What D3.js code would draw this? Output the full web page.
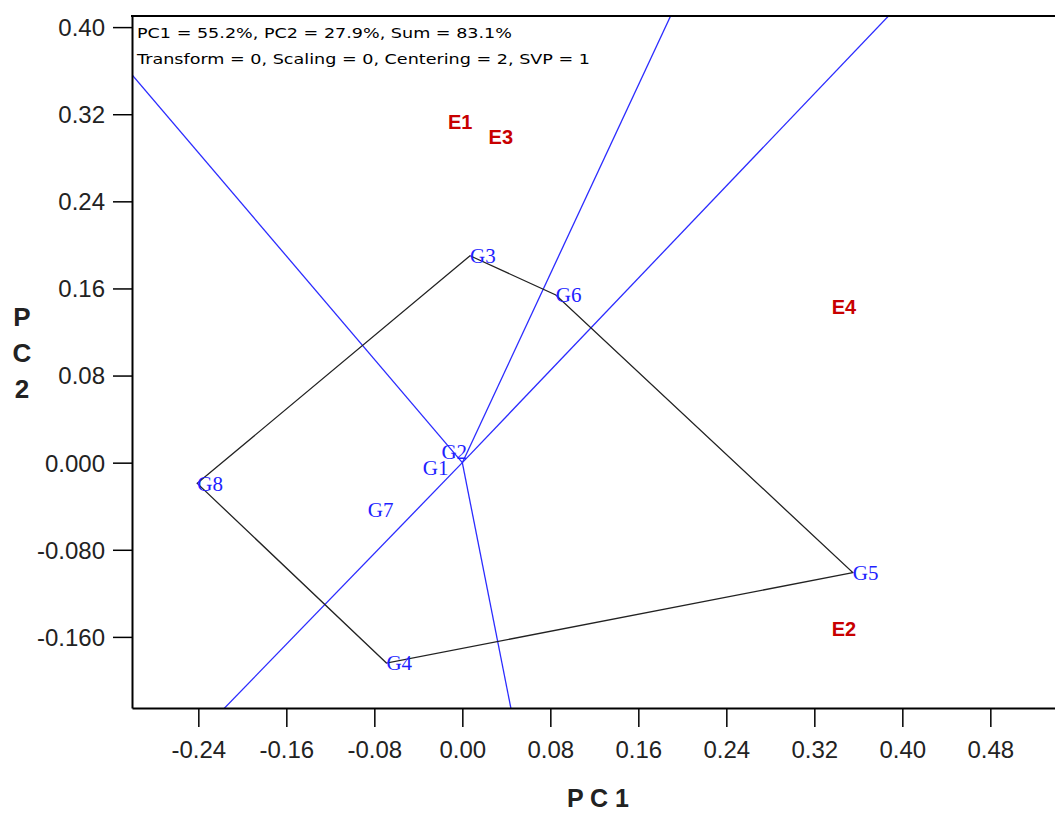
<!DOCTYPE html>
<html>
<head>
<meta charset="utf-8">
<script src="https://cdn.jsdelivr.net/npm/d3@7"></script>
<style>
  html, body { margin: 0; padding: 0; background: #fff; }
  svg { display: block; }
</style>
</head>
<body>
<svg id="chart" width="1055" height="814"></svg>
<script>
// ---- data ----
const genotypes = ["G1", "G2", "G3", "G4", "G5", "G6", "G7", "G8"];
const genoPC1 = [-0.036, -0.019, 0.007, -0.069, 0.355, 0.085, -0.086, -0.241];
const genoPC2 = [-0.005, 0.010, 0.190, -0.184, -0.101, 0.154, -0.043, -0.019];

const environments = ["E1", "E2", "E3", "E4"];
const envPC1 = [-0.002, 0.347, 0.035, 0.347];
const envPC2 = [0.313, -0.153, 0.299, 0.143];

const hullOrder = ["G3", "G6", "G5", "G4", "G8"];

const xTicks = [-0.24, -0.16, -0.08, 0.00, 0.08, 0.16, 0.24, 0.32, 0.40, 0.48];
const xTickLabels = ["-0.24", "-0.16", "-0.08", "0.00", "0.08", "0.16", "0.24", "0.32", "0.40", "0.48"];
const yTicks = [0.40, 0.32, 0.24, 0.16, 0.08, 0.00, -0.08, -0.16];
const yTickLabels = ["0.40", "0.32", "0.24", "0.16", "0.08", "0.000", "-0.080", "-0.160"];

const infoLines = [
  "PC1 = 55.2%, PC2 = 27.9%, Sum = 83.1%",
  "Transform = 0, Scaling = 0, Centering = 2, SVP = 1"
];
const xTitle = "P C 1";
const yTitleLetters = ["P", "C", "2"];

// ---- layout ----
const svg = d3.select("#chart");
const L = 132, R = 1078, T = 16, B = 708;
const x = d3.scaleLinear().domain([-0.3003, 0.5597]).range([L, R]);
const y = d3.scaleLinear().domain([-0.2253, 0.4102]).range([B, T]);

svg.append("rect").attr("width", 1055).attr("height", 814).attr("fill", "#fff");

svg.append("defs").append("clipPath").attr("id", "plotclip")
  .append("rect").attr("x", L).attr("y", T).attr("width", R - L).attr("height", B - T);

const plot = svg.append("g").attr("clip-path", "url(#plotclip)");

// genotype lookup
const gIdx = {};
genotypes.forEach((g, i) => gIdx[g] = i);
const hullPts = hullOrder.map(g => [genoPC1[gIdx[g]], genoPC2[gIdx[g]]]);

// rays: from origin perpendicular to each polygon side
hullPts.forEach((A, i) => {
  const Bp = hullPts[(i + 1) % hullPts.length];
  const dx = Bp[0] - A[0], dy = Bp[1] - A[1];
  const t = -(A[0] * dx + A[1] * dy) / (dx * dx + dy * dy);
  const fx = A[0] + t * dx, fy = A[1] + t * dy;
  const len = Math.hypot(fx, fy);
  const ex = fx / len * 2, ey = fy / len * 2;
  plot.append("line")
    .attr("x1", x(0)).attr("y1", y(0))
    .attr("x2", x(ex)).attr("y2", y(ey))
    .attr("stroke", "#2b2bff").attr("stroke-width", 1.3);
});

// polygon
plot.append("path")
  .datum(hullPts)
  .attr("d", d3.line().x(d => x(d[0])).y(d => y(d[1])).curve(d3.curveLinearClosed))
  .attr("fill", "none").attr("stroke", "#222").attr("stroke-width", 1.3);

// genotype labels
svg.append("g").selectAll("text").data(genotypes).join("text")
  .attr("x", (d, i) => x(genoPC1[i]))
  .attr("y", (d, i) => y(genoPC2[i]))
  .attr("dy", "0.35em")
  .attr("font-family", "'Liberation Serif', 'Times New Roman', serif")
  .attr("font-size", 21)
  .attr("fill", "#1f1fff")
  .text(d => d);

// environment labels
svg.append("g").selectAll("text").data(environments).join("text")
  .attr("x", (d, i) => x(envPC1[i]))
  .attr("y", (d, i) => y(envPC2[i]))
  .attr("dy", "0.36em")
  .attr("text-anchor", "middle")
  .attr("font-family", "'Liberation Sans', Arial, sans-serif")
  .attr("font-weight", "bold")
  .attr("font-size", 20)
  .attr("fill", "#c80000")
  .text(d => d);

// axes
const xAxis = d3.axisBottom(x).tickValues(xTicks).tickSize(19).tickSizeOuter(0)
  .tickFormat((d, i) => xTickLabels[i]);
const yAxis = d3.axisLeft(y).tickValues(yTicks).tickSize(19).tickSizeOuter(0)
  .tickFormat((d, i) => yTickLabels[i]);

const gx = svg.append("g").attr("transform", `translate(0,${B})`).call(xAxis);
const gy = svg.append("g").attr("transform", `translate(${L},0)`).call(yAxis);
[gx, gy].forEach(g => {
  g.select(".domain").attr("stroke", "#000").attr("stroke-width", 2);
  g.selectAll(".tick line").attr("stroke", "#000").attr("stroke-width", 1.5);
  g.selectAll(".tick text")
    .attr("font-family", "'Liberation Sans', Arial, sans-serif")
    .attr("font-size", 24)
    .attr("fill", "#222");
});
gx.selectAll(".tick text").attr("dy", 0).attr("y", 50);
gy.selectAll(".tick text").attr("x", -27).attr("dy", "0.35em");

// top border
svg.append("line").attr("x1", L - 1).attr("x2", R).attr("y1", T).attr("y2", T)
  .attr("stroke", "#000").attr("stroke-width", 2);

// info text
const infoLengths = [375, 453];
infoLines.forEach((s, i) => {
  svg.append("text")
    .attr("x", 137).attr("y", 33 + i * 26).attr("dy", "0.36em")
    .attr("font-family", "'DejaVu Sans', Verdana, sans-serif")
    .attr("font-size", 14.5)
    .attr("fill", "#000")
    .attr("textLength", infoLengths[i]).attr("lengthAdjust", "spacingAndGlyphs")
    .text(s);
});

// axis titles
svg.append("text")
  .attr("x", 598).attr("y", 798).attr("dy", "0.36em")
  .attr("text-anchor", "middle")
  .attr("font-family", "'Liberation Sans', Arial, sans-serif")
  .attr("font-weight", "bold").attr("font-size", 25).attr("fill", "#222")
  .text(xTitle);

svg.append("g").selectAll("text").data(yTitleLetters).join("text")
  .attr("x", 22).attr("y", (d, i) => 317 + i * 36).attr("dy", "0.36em")
  .attr("text-anchor", "middle")
  .attr("font-family", "'Liberation Sans', Arial, sans-serif")
  .attr("font-weight", "bold").attr("font-size", 26).attr("fill", "#222")
  .text(d => d);
</script>
</body>
</html>
